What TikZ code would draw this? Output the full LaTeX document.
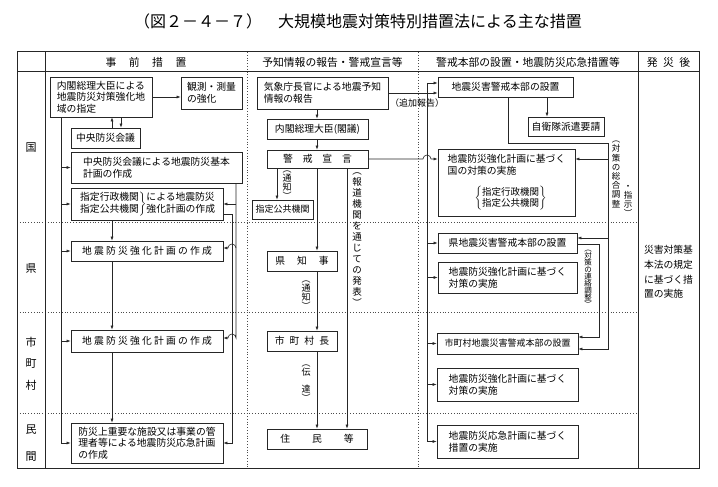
\documentclass[tikz,border=0pt]{standalone}
\usepackage{fontspec}
\setmainfont{Noto Sans CJK JP}
\usetikzlibrary{arrows.meta}

\begin{document}
\begin{tikzpicture}[
            x=1pt, y=1pt,
            >={Latex[length=4pt,width=3pt]},
            box/.style={rectangle, draw=black!85, line width=0.7pt, align=left, inner sep=1pt, font=\fontsize{9.8}{11.7}\selectfont},
            head/.style={inner sep=0pt, font=\fontsize{10.8}{12}\selectfont},
            rowlabel/.style={align=center, inner sep=0pt, font=\fontsize{11}{21.5}\selectfont},
            vlabel/.style={align=center, inner sep=0pt, font=\fontsize{9}{9}\selectfont},
            frame/.style={draw=black!85, line width=1pt},
            sepline/.style={draw=black!70, line width=0.6pt, dash pattern=on 1pt off 1.8pt},
            link/.style={draw=black!85, line width=0.6pt},
            arrow/.style={->, link}
        ]
        \useasboundingbox (0,0) rectangle (718,-487);

        \node[inner sep=0pt, font=\fontsize{16}{18}\selectfont] (title) at (358,-21) {（図２－４－７）　大規模地震対策特別措置法による主な措置};

        % table frame
        \draw[sepline] (247,-52) -- (247,-468);
        \draw[sepline] (418,-52) -- (418,-468);
        \draw[sepline] (17,-222) -- (638,-222);
        \draw[sepline] (17,-312) -- (638,-312);
        \draw[sepline] (17,-413) -- (638,-413);
        \draw[frame] (17,-52) rectangle (699,-468);
        \draw[frame] (45,-52) -- (45,-468);
        \draw[frame] (638,-52) -- (638,-468);
        \draw[frame] (17,-72) -- (699,-72);

        \node[head] (hPre) at (146,-62) {事\hspace{12.5pt}前\hspace{12.5pt}措\hspace{12.5pt}置};
        \node[head] (hForecast) at (332.5,-62) {予知情報の報告・警戒宣言等};
        \node[head] (hHQ) at (528,-62) {警戒本部の設置・地震防災応急措置等};
        \node[head] (hPost) at (668.5,-62) {発\hspace{5.5pt}災\hspace{5.5pt}後};

        \node[rowlabel] (rNat) at (31,-148) {国};
        \node[rowlabel] (rPref) at (31,-269) {県};
        \node[rowlabel] (rMuni) at (31,-363.5) {市\\町\\村};
        \node[rowlabel, font=\fontsize{11}{27}\selectfont] (rPriv) at (31,-443.5) {民\\間};

        % 事前措置
        \node[box, minimum width=102pt, minimum height=40pt] (desig) at (101,-97) {内閣総理大臣による\\地震防災対策強化地\\域の指定};
        \node[box, minimum width=61pt, minimum height=32pt] (observe) at (211.5,-93) {観測・測量\\の強化};
        \node[box, minimum width=69pt, minimum height=20pt] (central) at (105.5,-138) {中央防災会議};
        \node[box, minimum width=171pt, minimum height=31pt] (basic) at (156.5,-167.5) {中央防災会議による地震防災基本\\計画の作成};
        \node[box, minimum width=152pt, minimum height=32pt] (agency) at (147,-204) {$\left.\begin{tabular}{@{}l@{}}指定行政機関\\指定公共機関\end{tabular}\right\}$\begin{tabular}{@{}l@{}}による地震防災\\強化計画の作成\end{tabular}};
        \node[box, minimum width=152pt, minimum height=20pt] (prefplan) at (147,-251) {地 震 防 災 強 化 計 画 の 作 成};
        \node[box, minimum width=152pt, minimum height=22pt] (muniplan) at (147,-341) {地 震 防 災 強 化 計 画 の 作 成};
        \node[box, minimum width=152pt, minimum height=40pt] (privplan) at (147,-443) {防災上重要な施設又は事業の管\\理者等による地震防災応急計画\\の作成};

        % 予知情報の報告・警戒宣言
        \node[box, minimum width=131pt, minimum height=32pt] (forecast) at (322.5,-93) {気象庁長官による地震予知\\情報の報告};
        \node[box, minimum width=101pt, minimum height=20pt] (cabinet) at (317.5,-129) {内閣総理大臣(閣議)};
        \node[box, minimum width=101pt, minimum height=18pt] (warning) at (317.5,-159) {警　戒　宣　言};
        \node[box, minimum width=61pt, minimum height=19pt, font=\fontsize{9}{10}\selectfont] (pubagency) at (282.5,-209.5) {指定公共機関};
        \node[box, minimum width=70pt, minimum height=20pt] (governor) at (302,-261) {県\hspace{12pt}知\hspace{12pt}事};
        \node[box, minimum width=70pt, minimum height=20pt] (mayor) at (302,-341) {市\hspace{5pt}町\hspace{5pt}村\hspace{5pt}長};
        \node[box, minimum width=100pt, minimum height=20pt] (residents) at (317,-439) {住\hspace{22pt}民\hspace{22pt}等};

        % 警戒本部・応急措置
        \node[box, minimum width=135pt, minimum height=20pt] (hq) at (505.5,-87) {地震災害警戒本部の設置};
        \node[box, minimum width=76pt, minimum height=19pt] (sdf) at (566,-126.5) {自衛隊派遣要請};
        \node[box, minimum width=137pt, minimum height=67pt] (natmeasure) at (506.5,-182.5) {地震防災強化計画に基づく\\国の対策の実施\\[10pt]\hspace{27pt}{\fontsize{9.5}{9.5}\selectfont$\left\{\begin{tabular}{@{}l@{}}指定行政機関\\指定公共機関\end{tabular}\right\}$}};
        \node[box, minimum width=139pt, minimum height=20pt] (prefhq) at (507.5,-243) {県地震災害警戒本部の設置};
        \node[box, minimum width=139pt, minimum height=31pt] (prefmeasure) at (507.5,-277.5) {地震防災強化計画に基づく\\対策の実施};
        \node[box, minimum width=141pt, minimum height=21pt, font=\fontsize{9}{10}\selectfont] (munihq) at (507.5,-343.5) {市町村地震災害警戒本部の設置};
        \node[box, minimum width=141pt, minimum height=33pt] (munimeasure) at (507.5,-384.5) {地震防災強化計画に基づく\\対策の実施};
        \node[box, minimum width=141pt, minimum height=33pt] (privmeasure) at (507.5,-441.5) {地震防災応急計画に基づく\\措置の実施};

        % 発災後
        \node[align=left, inner sep=0pt, font=\fontsize{9.8}{14.6}\selectfont] (postquake) at (668.5,-272) {災害対策基\\本法の規定\\に基づく措\\置の実施};

        % labels
        \node[inner sep=0pt, font=\fontsize{9}{10}\selectfont] (addrep) at (417,-103) {（追加報告）};
        \node[vlabel] (notice1) at (287,-185) {︵\\通\\知\\︶};
        \node[vlabel, font=\fontsize{9.5}{11}\selectfont] (press) at (357,-240) {︵\\報\\道\\機\\関\\を\\通\\じ\\て\\の\\発\\表\\︶};
        \node[vlabel] (notice2) at (306,-295) {︵\\通\\知\\︶};
        \node[vlabel] (relay) at (306,-383) {︵\\伝\\[8pt]達\\︶};
        \node[vlabel, font=\fontsize{7.5}{7}\selectfont] (liaison) at (588,-279) {︵\\対\\策\\の\\連\\絡\\調\\整\\︶};
        \node[vlabel, anchor=north, font=\fontsize{8.5}{9.2}\selectfont] (overall) at (616,-141) {︵\\対\\策\\の\\総\\合\\調\\整};
        \node[vlabel, anchor=south, font=\fontsize{8.5}{9.2}\selectfont] (direct) at (628,-217) {・\\指\\示\\︶};

        % guide lines
        \coordinate (lbus) at (61,0);
        \coordinate (upx) at (112,0);
        \coordinate (downx) at (121,0);
        \coordinate (rbusB) at (232,0);
        \coordinate (rbusA) at (236,0);
        \coordinate (notx) at (277,0);
        \coordinate (mainx) at (317,0);
        \coordinate (pressx) at (347,0);
        \coordinate (rbus) at (427,0);
        \coordinate (dropx) at (508,0);
        \coordinate (sdfx) at (547,0);
        \coordinate (liaisonx) at (599,0);
        \coordinate (ctop) at (608,-143);

        % 事前措置
        \draw[arrow] (desig.east) -- (desig.east -| observe.west);
        \draw[arrow] (central.north -| upx) -- (desig.south -| upx);
        \draw[arrow] (desig.south -| downx) -- (central.north -| downx);
        \draw[arrow] (desig.south -| lbus) |- (privplan.west);
        \foreach \n in {basic,agency,prefplan,muniplan}
            \draw[arrow] (lbus |- \n.west) -- (\n.west);
        \draw[arrow] (agency.south -| upx) -- (prefplan.north -| upx);
        \draw[arrow] (prefplan.south -| upx) -- (muniplan.north -| upx);
        \draw[arrow] (muniplan.south -| upx) -- (privplan.north -| upx);
        \draw[arrow] (basic.south -| rbusA) -- ([yshift=3pt]muniplan.east -| rbusA) arc[start angle=0, end angle=180, radius=4pt] -- ([yshift=3pt]muniplan.east);
        \draw[arrow] (agency.east -| rbusA) -- (agency.east);
        \draw[arrow] ([yshift=3pt]prefplan.east -| rbusA) arc[start angle=0, end angle=180, radius=4pt] -- ([yshift=3pt]prefplan.east);
        \draw[arrow] ([yshift=-10pt]agency.east) -- ([yshift=-10pt]agency.east -| rbusB) |- (privplan.east);

        % 予知情報・警戒宣言
        \draw[arrow] (forecast.south -| mainx) -- (cabinet.north -| mainx);
        \draw[arrow] (cabinet.south -| mainx) -- (warning.north -| mainx);
        \draw[arrow] (warning.south -| notx) -- (pubagency.north -| notx);
        \draw[arrow] (warning.south -| mainx) -- (governor.north -| mainx);
        \draw[arrow] (governor.south -| mainx) -- (mayor.north -| mainx);
        \draw[arrow] (mayor.south -| mainx) -- (residents.north -| mainx);
        \draw[arrow] (warning.south -| pressx) -- (residents.north -| pressx);
        \draw[arrow] (forecast.east) -- (forecast.east -| hq.west);
        \draw[arrow] (warning.east) -- ([xshift=-4pt]warning.east -| rbus) arc[start angle=180, end angle=0, radius=4pt] -- (warning.east -| natmeasure.west);

        % 警戒本部・応急措置
        \draw[arrow] ([yshift=4pt]hq.west -| rbus) -- ([yshift=4pt]hq.west);
        \draw[arrow] ([yshift=4pt]hq.west -| rbus) |- (privmeasure.west);
        \foreach \n in {prefhq,prefmeasure,munihq,munimeasure}
            \draw[arrow] (rbus |- \n.west) -- (\n.west);
        \draw[arrow] (hq.south -| sdfx) -- (sdf.north -| sdfx);
        \draw[link] (hq.south -| dropx) |- (ctop);
        \draw[arrow] (ctop) |- ([yshift=-5.5pt]munihq.east);
        \draw[arrow] ([yshift=23.5pt]natmeasure.east -| ctop) -- ([yshift=23.5pt]natmeasure.east);
        \draw[arrow] ([yshift=5pt]prefhq.east -| ctop) -- ([yshift=5pt]prefhq.east);
        \draw[arrow] ([yshift=-1pt]prefhq.east) -- ([yshift=-1pt]prefhq.east -| liaisonx) |- ([yshift=6.5pt]munihq.east);
    \end{tikzpicture}
\end{document}
